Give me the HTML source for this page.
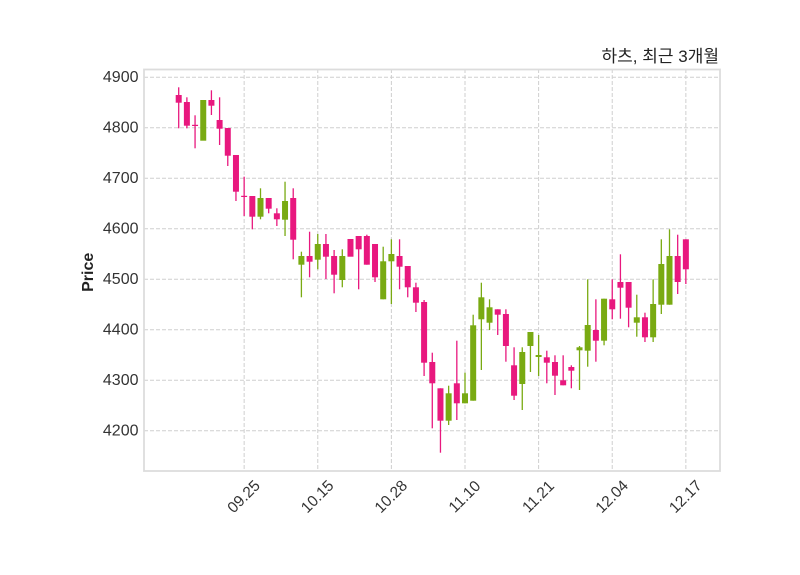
<!DOCTYPE html>
<html>
<head>
<meta charset="utf-8">
<style>
  html,body{margin:0;padding:0;background:#fff;}
  svg{display:block;}
  text{font-family:"Liberation Sans","Noto Sans CJK KR","NanumGothic",sans-serif;}
</style>
</head>
<body>
<svg width="800" height="575" viewBox="0 0 800 575" xmlns="http://www.w3.org/2000/svg">
  <rect x="0" y="0" width="800" height="575" fill="#fff"/>
  <!-- grid -->
  <g stroke="#cfcfcf" stroke-width="1" stroke-dasharray="4,2" fill="none">
    <line x1="144" y1="77.3" x2="720" y2="77.3"/>
    <line x1="144" y1="127.8" x2="720" y2="127.8"/>
    <line x1="144" y1="178.3" x2="720" y2="178.3"/>
    <line x1="144" y1="228.8" x2="720" y2="228.8"/>
    <line x1="144" y1="279.3" x2="720" y2="279.3"/>
    <line x1="144" y1="329.8" x2="720" y2="329.8"/>
    <line x1="144" y1="380.3" x2="720" y2="380.3"/>
    <line x1="144" y1="430.8" x2="720" y2="430.8"/>
    <line x1="244.14" y1="69" x2="244.14" y2="471"/>
    <line x1="317.76" y1="69" x2="317.76" y2="471"/>
    <line x1="391.38" y1="69" x2="391.38" y2="471"/>
    <line x1="465" y1="69" x2="465" y2="471"/>
    <line x1="538.62" y1="69" x2="538.62" y2="471"/>
    <line x1="612.24" y1="69" x2="612.24" y2="471"/>
    <line x1="685.86" y1="69" x2="685.86" y2="471"/>
  </g>
  <!-- frame -->
  <rect x="144" y="69.5" width="576" height="401.5" fill="none" stroke="#dcdcdc" stroke-width="1.8"/>

  <g stroke-width="1.3">
    <line x1="178.7" y1="87.3" x2="178.7" y2="128.3" stroke="#e8187e"/><rect x="175.7" y="95" width="6" height="7.7" fill="#e8187e"/>
    <line x1="186.88" y1="97.3" x2="186.88" y2="128.3" stroke="#e8187e"/><rect x="183.88" y="102" width="6" height="23.7" fill="#e8187e"/>
    <line x1="195.06" y1="115.3" x2="195.06" y2="148.3" stroke="#e8187e"/><rect x="192.06" y="124.8" width="6" height="1.2" fill="#e8187e"/>
    <rect x="200.24" y="100" width="6" height="40.7" fill="#79aa12"/>
    <line x1="211.42" y1="90.3" x2="211.42" y2="115" stroke="#e8187e"/><rect x="208.42" y="100" width="6" height="5.7" fill="#e8187e"/>
    <line x1="219.6" y1="97.3" x2="219.6" y2="145" stroke="#e8187e"/><rect x="216.6" y="120" width="6" height="8.7" fill="#e8187e"/>
    <line x1="227.78" y1="128" x2="227.78" y2="166" stroke="#e8187e"/><rect x="224.78" y="128" width="6" height="27.7" fill="#e8187e"/>
    <line x1="235.96" y1="155" x2="235.96" y2="201" stroke="#e8187e"/><rect x="232.96" y="155" width="6" height="36.7" fill="#e8187e"/>
    <line x1="244.14" y1="176.7" x2="244.14" y2="216" stroke="#e8187e"/><rect x="241.14" y="195.8" width="6" height="1.2" fill="#e8187e"/>
    <line x1="252.32" y1="196" x2="252.32" y2="229.3" stroke="#e8187e"/><rect x="249.32" y="196" width="6" height="20.7" fill="#e8187e"/>
    <line x1="260.5" y1="188.3" x2="260.5" y2="219.3" stroke="#79aa12"/><rect x="257.5" y="198" width="6" height="18.7" fill="#79aa12"/>
    <line x1="268.68" y1="198" x2="268.68" y2="213.3" stroke="#e8187e"/><rect x="265.68" y="198" width="6" height="10.7" fill="#e8187e"/>
    <line x1="276.86" y1="208.3" x2="276.86" y2="226" stroke="#e8187e"/><rect x="273.86" y="213.3" width="6" height="6" fill="#e8187e"/>
    <line x1="285.04" y1="181.7" x2="285.04" y2="236" stroke="#79aa12"/><rect x="282.04" y="201" width="6" height="18.7" fill="#79aa12"/>
    <line x1="293.22" y1="188.3" x2="293.22" y2="259.3" stroke="#e8187e"/><rect x="290.22" y="198" width="6" height="41.7" fill="#e8187e"/>
    <line x1="301.4" y1="251.7" x2="301.4" y2="297.3" stroke="#79aa12"/><rect x="298.4" y="256" width="6" height="8.7" fill="#79aa12"/>
    <line x1="309.58" y1="231.7" x2="309.58" y2="277.3" stroke="#e8187e"/><rect x="306.58" y="256" width="6" height="5.7" fill="#e8187e"/>
    <line x1="317.76" y1="234" x2="317.76" y2="269.3" stroke="#79aa12"/><rect x="314.76" y="244" width="6" height="15.7" fill="#79aa12"/>
    <line x1="325.94" y1="234" x2="325.94" y2="279" stroke="#e8187e"/><rect x="322.94" y="244" width="6" height="12.7" fill="#e8187e"/>
    <line x1="334.12" y1="250" x2="334.12" y2="293.3" stroke="#e8187e"/><rect x="331.12" y="256" width="6" height="18.7" fill="#e8187e"/>
    <line x1="342.3" y1="249.3" x2="342.3" y2="287.3" stroke="#79aa12"/><rect x="339.3" y="256" width="6" height="24" fill="#79aa12"/>
    <rect x="347.48" y="239" width="6" height="17.7" fill="#e8187e"/>
    <line x1="358.66" y1="236" x2="358.66" y2="289.3" stroke="#e8187e"/><rect x="355.66" y="236" width="6" height="13.3" fill="#e8187e"/>
    <line x1="366.84" y1="234.7" x2="366.84" y2="264.7" stroke="#e8187e"/><rect x="363.84" y="236" width="6" height="28.7" fill="#e8187e"/>
    <line x1="375.02" y1="244" x2="375.02" y2="282" stroke="#e8187e"/><rect x="372.02" y="244" width="6" height="33.3" fill="#e8187e"/>
    <line x1="383.2" y1="246.7" x2="383.2" y2="299.3" stroke="#79aa12"/><rect x="380.2" y="261.3" width="6" height="38" fill="#79aa12"/>
    <line x1="391.38" y1="239.3" x2="391.38" y2="304" stroke="#79aa12"/><rect x="388.38" y="254" width="6" height="7.3" fill="#79aa12"/>
    <line x1="399.56" y1="239.3" x2="399.56" y2="289.3" stroke="#e8187e"/><rect x="396.56" y="256" width="6" height="10.7" fill="#e8187e"/>
    <line x1="407.74" y1="266" x2="407.74" y2="297.3" stroke="#e8187e"/><rect x="404.74" y="266" width="6" height="21.3" fill="#e8187e"/>
    <line x1="415.92" y1="282.7" x2="415.92" y2="312" stroke="#e8187e"/><rect x="412.92" y="287.3" width="6" height="15.4" fill="#e8187e"/>
    <line x1="424.1" y1="300" x2="424.1" y2="376" stroke="#e8187e"/><rect x="421.1" y="302" width="6" height="60.7" fill="#e8187e"/>
    <line x1="432.28" y1="352.7" x2="432.28" y2="428.3" stroke="#e8187e"/><rect x="429.28" y="362" width="6" height="21.3" fill="#e8187e"/>
    <line x1="440.46" y1="388.3" x2="440.46" y2="452.7" stroke="#e8187e"/><rect x="437.46" y="388.3" width="6" height="32.4" fill="#e8187e"/>
    <line x1="448.64" y1="385.7" x2="448.64" y2="425" stroke="#79aa12"/><rect x="445.64" y="393.3" width="6" height="27.4" fill="#79aa12"/>
    <line x1="456.82" y1="340.7" x2="456.82" y2="420" stroke="#e8187e"/><rect x="453.82" y="383.3" width="6" height="20" fill="#e8187e"/>
    <line x1="465" y1="372.7" x2="465" y2="403.3" stroke="#79aa12"/><rect x="462" y="393.3" width="6" height="10" fill="#79aa12"/>
    <line x1="473.18" y1="314.7" x2="473.18" y2="400.7" stroke="#79aa12"/><rect x="470.18" y="325.3" width="6" height="75.4" fill="#79aa12"/>
    <line x1="481.36" y1="282.7" x2="481.36" y2="370" stroke="#79aa12"/><rect x="478.36" y="297.3" width="6" height="22" fill="#79aa12"/>
    <line x1="489.54" y1="299.3" x2="489.54" y2="330" stroke="#79aa12"/><rect x="486.54" y="307.3" width="6" height="15.4" fill="#79aa12"/>
    <line x1="497.72" y1="309.3" x2="497.72" y2="335" stroke="#e8187e"/><rect x="494.72" y="309.3" width="6" height="5.4" fill="#e8187e"/>
    <line x1="505.9" y1="309.3" x2="505.9" y2="361.7" stroke="#e8187e"/><rect x="502.9" y="314" width="6" height="32" fill="#e8187e"/>
    <line x1="514.08" y1="347.3" x2="514.08" y2="400" stroke="#e8187e"/><rect x="511.08" y="365.3" width="6" height="30.4" fill="#e8187e"/>
    <line x1="522.26" y1="347.3" x2="522.26" y2="410" stroke="#79aa12"/><rect x="519.26" y="352" width="6" height="32" fill="#79aa12"/>
    <line x1="530.44" y1="332" x2="530.44" y2="372" stroke="#79aa12"/><rect x="527.44" y="332" width="6" height="14" fill="#79aa12"/>
    <line x1="538.62" y1="335" x2="538.62" y2="376" stroke="#79aa12"/><rect x="535.62" y="355" width="6" height="2" fill="#79aa12"/>
    <line x1="546.8" y1="350.7" x2="546.8" y2="383.3" stroke="#e8187e"/><rect x="543.8" y="357.3" width="6" height="5.4" fill="#e8187e"/>
    <line x1="554.98" y1="355.3" x2="554.98" y2="395" stroke="#e8187e"/><rect x="551.98" y="362" width="6" height="13.7" fill="#e8187e"/>
    <line x1="563.16" y1="355.3" x2="563.16" y2="385.3" stroke="#e8187e"/><rect x="560.16" y="380.3" width="6" height="5" fill="#e8187e"/>
    <line x1="571.34" y1="365.3" x2="571.34" y2="388.3" stroke="#e8187e"/><rect x="568.34" y="367" width="6" height="3.7" fill="#e8187e"/>
    <line x1="579.52" y1="346" x2="579.52" y2="390" stroke="#79aa12"/><rect x="576.52" y="347.3" width="6" height="3" fill="#79aa12"/>
    <line x1="587.7" y1="279.3" x2="587.7" y2="366.7" stroke="#79aa12"/><rect x="584.7" y="325" width="6" height="25.7" fill="#79aa12"/>
    <line x1="595.88" y1="299.3" x2="595.88" y2="361.7" stroke="#e8187e"/><rect x="592.88" y="330" width="6" height="10.7" fill="#e8187e"/>
    <line x1="604.06" y1="298.7" x2="604.06" y2="345.3" stroke="#79aa12"/><rect x="601.06" y="298.7" width="6" height="42" fill="#79aa12"/>
    <line x1="612.24" y1="279.3" x2="612.24" y2="319.3" stroke="#e8187e"/><rect x="609.24" y="299.3" width="6" height="10" fill="#e8187e"/>
    <line x1="620.42" y1="254.3" x2="620.42" y2="318.7" stroke="#e8187e"/><rect x="617.42" y="282" width="6" height="5.7" fill="#e8187e"/>
    <line x1="628.6" y1="282" x2="628.6" y2="327.3" stroke="#e8187e"/><rect x="625.6" y="282" width="6" height="25.7" fill="#e8187e"/>
    <line x1="636.78" y1="294.7" x2="636.78" y2="336.7" stroke="#79aa12"/><rect x="633.78" y="317.3" width="6" height="5.4" fill="#79aa12"/>
    <line x1="644.96" y1="312.7" x2="644.96" y2="342" stroke="#e8187e"/><rect x="641.96" y="317.3" width="6" height="20" fill="#e8187e"/>
    <line x1="653.14" y1="279.3" x2="653.14" y2="342" stroke="#79aa12"/><rect x="650.14" y="304" width="6" height="33.3" fill="#79aa12"/>
    <line x1="661.32" y1="239.3" x2="661.32" y2="314" stroke="#79aa12"/><rect x="658.32" y="264" width="6" height="40.7" fill="#79aa12"/>
    <line x1="669.5" y1="229.3" x2="669.5" y2="304.7" stroke="#79aa12"/><rect x="666.5" y="256" width="6" height="48.7" fill="#79aa12"/>
    <line x1="677.68" y1="234.7" x2="677.68" y2="294" stroke="#e8187e"/><rect x="674.68" y="256" width="6" height="26" fill="#e8187e"/>
    <line x1="685.86" y1="239.3" x2="685.86" y2="284" stroke="#e8187e"/><rect x="682.86" y="239.3" width="6" height="30" fill="#e8187e"/>
  </g>

  <g font-size="16" fill="#333" text-anchor="end" dominant-baseline="central">
    <text x="138.5" y="77.3">4900</text>
    <text x="138.5" y="127.8">4800</text>
    <text x="138.5" y="178.3">4700</text>
    <text x="138.5" y="228.8">4600</text>
    <text x="138.5" y="279.3">4500</text>
    <text x="138.5" y="329.8">4400</text>
    <text x="138.5" y="380.3">4300</text>
    <text x="138.5" y="430.8">4200</text>
  </g>

  <g font-size="15.5" fill="#333" text-anchor="middle" dominant-baseline="central">
    <text x="244.14" y="497" transform="rotate(-45 244.14 497)">09.25</text>
    <text x="317.76" y="497" transform="rotate(-45 317.76 497)">10.15</text>
    <text x="391.38" y="497" transform="rotate(-45 391.38 497)">10.28</text>
    <text x="465" y="497" transform="rotate(-45 465 497)">11.10</text>
    <text x="538.62" y="497" transform="rotate(-45 538.62 497)">11.21</text>
    <text x="612.24" y="497" transform="rotate(-45 612.24 497)">12.04</text>
    <text x="685.86" y="497" transform="rotate(-45 685.86 497)">12.17</text>
  </g>

  <text x="88.5" y="272.3" font-size="16" font-weight="bold" fill="#222" text-anchor="middle" dominant-baseline="central" transform="rotate(-90 88.5 272.3)">Price</text>

  <text x="719" y="62" font-size="17" fill="#222" text-anchor="end">하츠, 최근 3개월</text>
</svg>
</body>
</html>
